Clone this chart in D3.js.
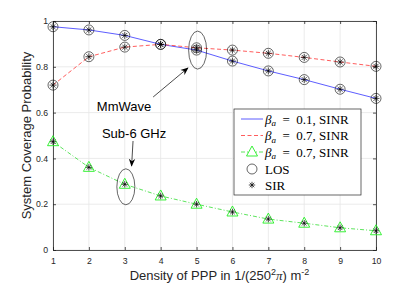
<!DOCTYPE html>
<html>
<head>
<meta charset="utf-8">
<script src="https://cdn.jsdelivr.net/npm/d3@7"></script>
<style>
  html, body { margin: 0; padding: 0; background: #fff; }
  svg { display: block; }
</style>
</head>
<body>
<div id="chart"></div>
<script>
// Coverage probability vs. PPP density

var densities = [1, 2, 3, 4, 5, 6, 7, 8, 9, 10];
var mmwLow = [0.975, 0.961, 0.937, 0.898, 0.873, 0.825, 0.782, 0.744, 0.702, 0.662];
var mmwHigh = [0.720, 0.844, 0.886, 0.898, 0.883, 0.873, 0.859, 0.841, 0.821, 0.802];
var sub6 = [0.473, 0.361, 0.287, 0.236, 0.200, 0.166, 0.135, 0.117, 0.097, 0.084];
var yTicks = [0, 0.2, 0.4, 0.6, 0.8, 1];
var legendLabels = ['0.1', '0.7', '0.7'];

var width = 415, height = 288;
var margin = { top: 21, right: 39, bottom: 38, left: 53 };
var innerW = width - margin.left - margin.right;
var innerH = height - margin.top - margin.bottom;
var tickFont = 'Liberation Sans, Arial, sans-serif';
var serif = 'Liberation Serif, DejaVu Serif, serif';

var svg = d3.select('#chart').append('svg')
    .attr('width', width)
    .attr('height', height);

var g = svg.append('g')
    .attr('transform', 'translate(' + margin.left + ',' + margin.top + ')');

var x = d3.scaleLinear().domain([1, 10]).range([0, innerW]);
var y = d3.scaleLinear().domain([0, 1]).range([innerH, 0]);

// grid
g.append('g').selectAll('line').data(densities).join('line')
    .attr('x1', function (d) { return x(d); }).attr('x2', function (d) { return x(d); })
    .attr('y1', 0).attr('y2', innerH)
    .attr('stroke', '#e6e6e6').attr('stroke-width', 0.8);
g.append('g').selectAll('line').data(yTicks).join('line')
    .attr('x1', 0).attr('x2', innerW)
    .attr('y1', function (d) { return y(d); }).attr('y2', function (d) { return y(d); })
    .attr('stroke', '#e6e6e6').attr('stroke-width', 0.8);

// axes
g.append('g')
    .attr('transform', 'translate(0,' + innerH + ')')
    .call(d3.axisBottom(x).tickValues(densities).tickSize(-3).tickPadding(8).tickFormat(d3.format('d')));
g.append('g')
    .call(d3.axisLeft(y).tickValues(yTicks).tickSize(-3).tickPadding(5).tickFormat(function (d) { return d === 0 || d === 1 ? d : d.toFixed(1); }));
g.append('g')
    .call(d3.axisTop(x).tickValues(densities).tickSize(-3).tickFormat(''));
g.append('g')
    .attr('transform', 'translate(' + innerW + ',0)')
    .call(d3.axisRight(y).tickValues(yTicks).tickSize(-3).tickFormat(''));

g.selectAll('.domain').attr('stroke', '#262626').attr('stroke-width', 0.8);
g.selectAll('.tick line').attr('stroke', '#262626').attr('stroke-width', 0.8);
g.selectAll('.tick text')
    .attr('fill', '#262626')
    .attr('font-family', tickFont)
    .attr('font-size', '8.7px');

// lines
var line = d3.line()
    .x(function (d, i) { return x(densities[i]); })
    .y(function (d) { return y(d); });

g.append('path').datum(mmwLow).attr('d', line)
    .attr('fill', 'none').attr('stroke', '#3333ff').attr('stroke-width', 0.8);
g.append('path').datum(mmwHigh).attr('d', line)
    .attr('fill', 'none').attr('stroke', '#ff3333').attr('stroke-width', 0.8)
    .attr('stroke-dasharray', '4,2.5');
g.append('path').datum(sub6).attr('d', line)
    .attr('fill', 'none').attr('stroke', '#33dd33').attr('stroke-width', 0.8)
    .attr('stroke-dasharray', '4,2,1,2');

// markers
function asterisk(sel, cx, cy, r) {
    for (var k = 0; k < 4; k++) {
        var a = k * Math.PI / 4;
        sel.append('line')
            .attr('x1', cx - r * Math.cos(a)).attr('y1', cy - r * Math.sin(a))
            .attr('x2', cx + r * Math.cos(a)).attr('y2', cy + r * Math.sin(a))
            .attr('stroke', '#000').attr('stroke-width', 0.7);
    }
}

var markers = g.append('g');
[mmwLow, mmwHigh].forEach(function (series) {
    series.forEach(function (v, i) {
        var cx = x(densities[i]), cy = y(v);
        markers.append('circle').attr('cx', cx).attr('cy', cy).attr('r', 5)
            .attr('fill', 'none').attr('stroke', '#000').attr('stroke-width', 0.6);
        asterisk(markers, cx, cy, 3.5);
    });
});
sub6.forEach(function (v, i) {
    var cx = x(densities[i]), cy = y(v);
    markers.append('path')
        .attr('d', 'M' + cx + ',' + (cy - 6) + 'L' + (cx + 5.5) + ',' + (cy + 4) + 'L' + (cx - 5.5) + ',' + (cy + 4) + 'Z')
        .attr('fill', 'none').attr('stroke', '#22ee22').attr('stroke-width', 0.9);
    asterisk(markers, cx, cy, 3.2);
});

// annotations
var ann = g.append('g');
svg.append('defs').append('marker')
    .attr('id', 'arrow').attr('viewBox', '0 0 10 10').attr('refX', 9).attr('refY', 5)
    .attr('markerWidth', 8).attr('markerHeight', 8).attr('orient', 'auto')
    .attr('markerUnits', 'userSpaceOnUse')
    .append('path').attr('d', 'M0,1L10,5L0,9L3,5Z').attr('fill', '#000');

ann.append('ellipse')
    .attr('cx', x(5.03)).attr('cy', y(0.873)).attr('rx', 9).attr('ry', 19)
    .attr('fill', 'none').attr('stroke', '#000').attr('stroke-width', 0.6);
ann.append('line')
    .attr('x1', x(3.79)).attr('y1', y(0.668)).attr('x2', x(4.76)).attr('y2', y(0.795))
    .attr('stroke', '#000').attr('stroke-width', 0.7).attr('marker-end', 'url(#arrow)');
ann.append('text')
    .attr('x', x(2.98)).attr('y', y(0.607))
    .attr('text-anchor', 'middle')
    .attr('font-family', tickFont).attr('font-size', '13px').attr('fill', '#000')
    .text('MmWave');

ann.append('ellipse')
    .attr('cx', x(3.03)).attr('cy', y(0.276)).attr('rx', 9).attr('ry', 18)
    .attr('fill', 'none').attr('stroke', '#000').attr('stroke-width', 0.6);
ann.append('line')
    .attr('x1', x(3.23)).attr('y1', y(0.476)).attr('x2', x(3.19)).attr('y2', y(0.367))
    .attr('stroke', '#000').attr('stroke-width', 0.7).attr('marker-end', 'url(#arrow)');
ann.append('text')
    .attr('x', x(3.26)).attr('y', y(0.489))
    .attr('text-anchor', 'middle')
    .attr('font-family', tickFont).attr('font-size', '13px').attr('fill', '#000')
    .text('Sub-6 GHz');

// legend
var lg = svg.append('g').attr('transform', 'translate(234,109)');
lg.append('rect').attr('width', 127).attr('height', 86)
    .attr('fill', '#fff').attr('stroke', '#262626').attr('stroke-width', 0.7);

var rowY = [10, 26.5, 43, 60, 76];
lg.append('line').attr('x1', 7).attr('x2', 29).attr('y1', rowY[0]).attr('y2', rowY[0])
    .attr('stroke', '#3333ff').attr('stroke-width', 0.8);
lg.append('line').attr('x1', 7).attr('x2', 29).attr('y1', rowY[1]).attr('y2', rowY[1])
    .attr('stroke', '#ff3333').attr('stroke-width', 0.8).attr('stroke-dasharray', '4,2.5');
lg.append('line').attr('x1', 7).attr('x2', 29).attr('y1', rowY[2]).attr('y2', rowY[2])
    .attr('stroke', '#33dd33').attr('stroke-width', 0.8).attr('stroke-dasharray', '4,2,1,2');
lg.append('path')
    .attr('d', 'M18,' + (rowY[2] - 6) + 'L23.5,' + (rowY[2] + 4) + 'L12.5,' + (rowY[2] + 4) + 'Z')
    .attr('fill', '#fff').attr('stroke', '#22ee22').attr('stroke-width', 0.9);
lg.append('circle').attr('cx', 18).attr('cy', rowY[3]).attr('r', 5)
    .attr('fill', 'none').attr('stroke', '#000').attr('stroke-width', 0.6);
asterisk(lg, 18, rowY[4], 3.2);

legendLabels.forEach(function (val, i) {
    var t = lg.append('text').attr('x', 31).attr('y', rowY[i] + 4.5)
        .attr('font-family', serif).attr('font-size', '13px').attr('fill', '#000');
    t.append('tspan').attr('font-style', 'italic').text('β');
    t.append('tspan').attr('font-style', 'italic').attr('font-size', '9px').attr('dy', 2.5).text('a');
    t.append('tspan').attr('dy', -2.5).text('\u2002=\u2002' + val + ', SINR');
});
lg.append('text').attr('x', 31).attr('y', rowY[3] + 4.5)
    .attr('font-family', serif).attr('font-size', '13px').text('LOS');
lg.append('text').attr('x', 31).attr('y', rowY[4] + 4.5)
    .attr('font-family', serif).attr('font-size', '13px').text('SIR');

// axis titles
var xt = svg.append('text')
    .attr('x', margin.left + innerW / 2 + 5).attr('y', 280)
    .attr('text-anchor', 'middle')
    .attr('font-family', tickFont).attr('font-size', '13px').attr('fill', '#262626');
xt.append('tspan').text('Density of PPP in 1/(250');
xt.append('tspan').attr('font-size', '9px').attr('dy', -5).text('2');
xt.append('tspan').attr('dy', 5).attr('font-family', serif).attr('font-style', 'italic').text('π');
xt.append('tspan').text(') m');
xt.append('tspan').attr('font-size', '9px').attr('dy', -5).text('-2');

svg.append('text')
    .attr('transform', 'translate(31,' + (margin.top + innerH / 2) + ') rotate(-90)')
    .attr('text-anchor', 'middle')
    .attr('font-family', tickFont).attr('font-size', '13px').attr('fill', '#262626')
    .text('System Coverage Probability');
</script>
</body>
</html>
